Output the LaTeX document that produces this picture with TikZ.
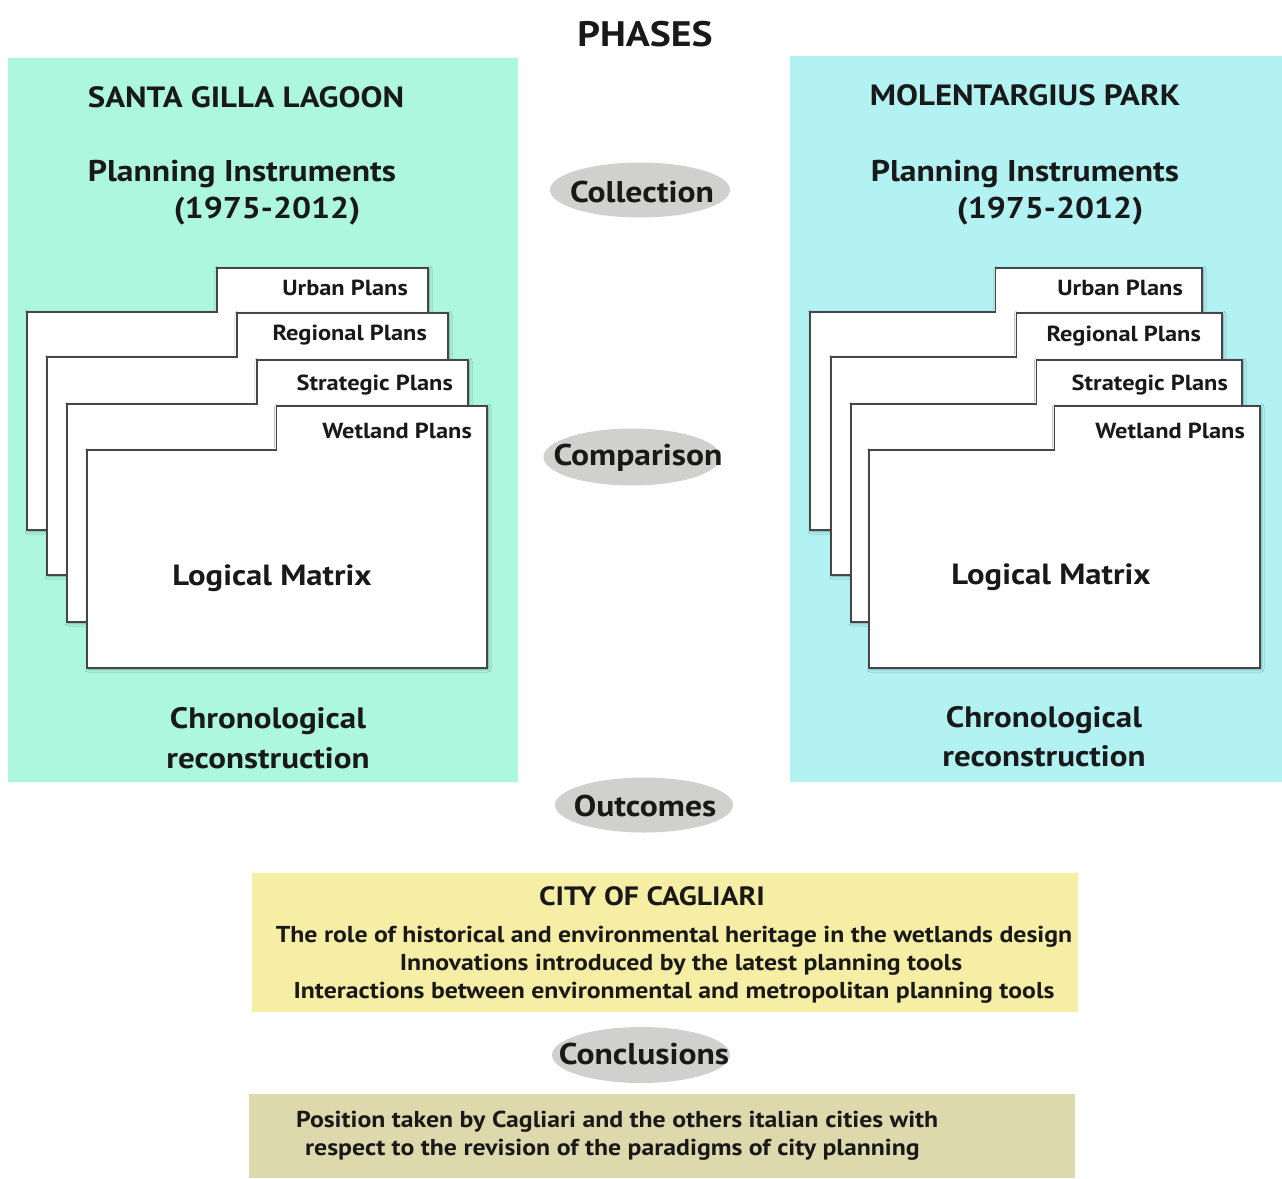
\documentclass[tikz,border=0pt]{standalone}
\usepackage{fontspec}
\setmainfont[FakeStretch=1.12]{PT Sans}
\usetikzlibrary{shapes.geometric,shadows.blur}
\definecolor{mintbg}{RGB}{172,247,222}
\definecolor{cyanbg}{RGB}{178,242,243}
\definecolor{yellowbg}{RGB}{246,238,164}
\definecolor{khakibg}{RGB}{222,217,172}
\definecolor{ovalgray}{RGB}{208,208,206}
\definecolor{folderline}{RGB}{70,70,70}
\tikzset{
  txt/.style={font=\bfseries, inner sep=0pt, anchor=center, text=black!90},
  bigtxt/.style={txt, font=\bfseries\fontsize{29.5}{32}\selectfont},
  phase/.style={ellipse, fill=ovalgray, inner sep=0pt, minimum width=178pt, minimum height=55pt},
  phasetxt/.style={txt, font=\bfseries\fontsize{30}{32}\selectfont},
  folderbox/.style={fill=white, draw=folderline, line width=1.1pt,
     blur shadow={shadow xshift=1pt, shadow yshift=-1pt, shadow blur radius=3pt, shadow blur steps=6, shadow opacity=35}},
  tablbl/.style={txt, font=\bfseries\fontsize{21.8}{24}\selectfont, anchor=east},
}
% #1 x-left of body, #2 y of tab top, #3 width, #4 name, #5 label, #6 label inset, #7 label dy
\newcommand{\plansfolder}[7]{%
  \path[folderbox] (#1+0.4738*#3,#2) -- (#1+#3,#2) -- (#1+#3,#2+262) -- (#1,#2+262) -- (#1,#2+44) -- (#1+0.4738*#3,#2+44) -- cycle;
  \node[tablbl] (#4) at (#1+#3-#6,#2+#7) {#5};
}
\begin{document}
\begin{tikzpicture}[x=1pt,y=-1pt]
\useasboundingbox[fill=white] (0,0) rectangle (1282,1178);
% title
\node[txt, font=\bfseries\fontsize{35.4}{40}\selectfont] (phases) at (645,34) {PHASES};
% panels
\fill[mintbg] (8,58) rectangle (518,782);
\fill[cyanbg] (790,56) rectangle (1282,782);
% left panel texts
\node[txt, font=\bfseries\fontsize{29.3}{32}\selectfont] (lefttitle) at (246,97) {SANTA GILLA LAGOON};
\node[bigtxt, font=\bfseries\fontsize{30}{32}\selectfont] (leftpi) at (242,174) {Planning Instruments};
\node[bigtxt, font=\bfseries\fontsize{30}{32}\selectfont] (leftyr) at (267,211) {(1975-2012)};
\plansfolder{27}{268}{401}{lurban}{Urban Plans}{20}{20}
\plansfolder{47}{313}{401}{lregional}{Regional Plans}{21}{22}
\plansfolder{67}{360}{401}{lstrategic}{Strategic Plans}{15}{25}
\plansfolder{87}{406}{400}{lwetland}{Wetland Plans}{15}{25}
\node[txt, font=\bfseries\fontsize{29.2}{32}\selectfont] (leftlm) at (272,578) {Logical Matrix};
\node[bigtxt] (leftchr1) at (268,721) {Chronological};
\node[bigtxt] (leftchr2) at (268,758) {reconstruction};
% right panel texts
\node[txt, font=\bfseries\fontsize{29.3}{32}\selectfont] (righttitle) at (1025,95) {MOLENTARGIUS PARK};
\node[bigtxt, font=\bfseries\fontsize{30}{32}\selectfont] (rightpi) at (1025,174) {Planning Instruments};
\node[bigtxt, font=\bfseries\fontsize{30}{32}\selectfont] (rightyr) at (1050,211) {(1975-2012)};
\plansfolder{810}{268}{392}{rurban}{Urban Plans}{19}{20}
\plansfolder{831}{313}{391}{rregional}{Regional Plans}{21}{23}
\plansfolder{851}{360}{391}{rstrategic}{Strategic Plans}{14}{25}
\plansfolder{869}{406}{391}{rwetland}{Wetland Plans}{15}{25}
\node[txt, font=\bfseries\fontsize{29.2}{32}\selectfont] (rightlm) at (1051,577) {Logical Matrix};
\node[bigtxt] (rightchr1) at (1044,720) {Chronological};
\node[bigtxt] (rightchr2) at (1044,756) {reconstruction};
% phase ovals
\node[phase, minimum width=180pt] (collection) at (640,190) {};
\node[phasetxt] (collectiontxt) at (642,192) {Collection};
\node[phase, minimum width=177pt, minimum height=57pt] (comparison) at (632,457) {};
\node[phasetxt] (comparisontxt) at (638,458) {Comparison};
\node[phase] (outcomes) at (644,805) {};
\node[phasetxt] (outcomestxt) at (645,806) {Outcomes};
\node[phase, minimum height=56pt] (conclusions) at (641,1055) {};
\node[phasetxt] (conclusionstxt) at (644,1054) {Conclusions};
% outcomes box
\fill[yellowbg] (252,873) rectangle (1078,1012);
\node[txt, font=\bfseries\fontsize{26.5}{28}\selectfont] (city) at (652,896) {CITY OF CAGLIARI};
\node[txt, font=\bfseries\fontsize{23}{25}\selectfont] (out1) at (674,937) {The role of historical and environmental heritage in the wetlands design};
\node[txt, font=\bfseries\fontsize{23}{25}\selectfont] (out2) at (681,965) {Innovations introduced by the latest planning tools};
\node[txt, font=\bfseries\fontsize{23}{25}\selectfont] (out3) at (674,993) {Interactions between environmental and metropolitan planning tools};
% conclusions box
\fill[khakibg] (249,1094) rectangle (1075,1178);
\node[txt, font=\bfseries\fontsize{23}{25}\selectfont, anchor=west] (conc1) at (296,1122) {Position taken by Cagliari and the others italian cities with};
\node[txt, font=\bfseries\fontsize{23}{25}\selectfont, anchor=west] (conc2) at (305,1150) {respect to the revision of the paradigms of city planning};
\end{tikzpicture}
\end{document}
